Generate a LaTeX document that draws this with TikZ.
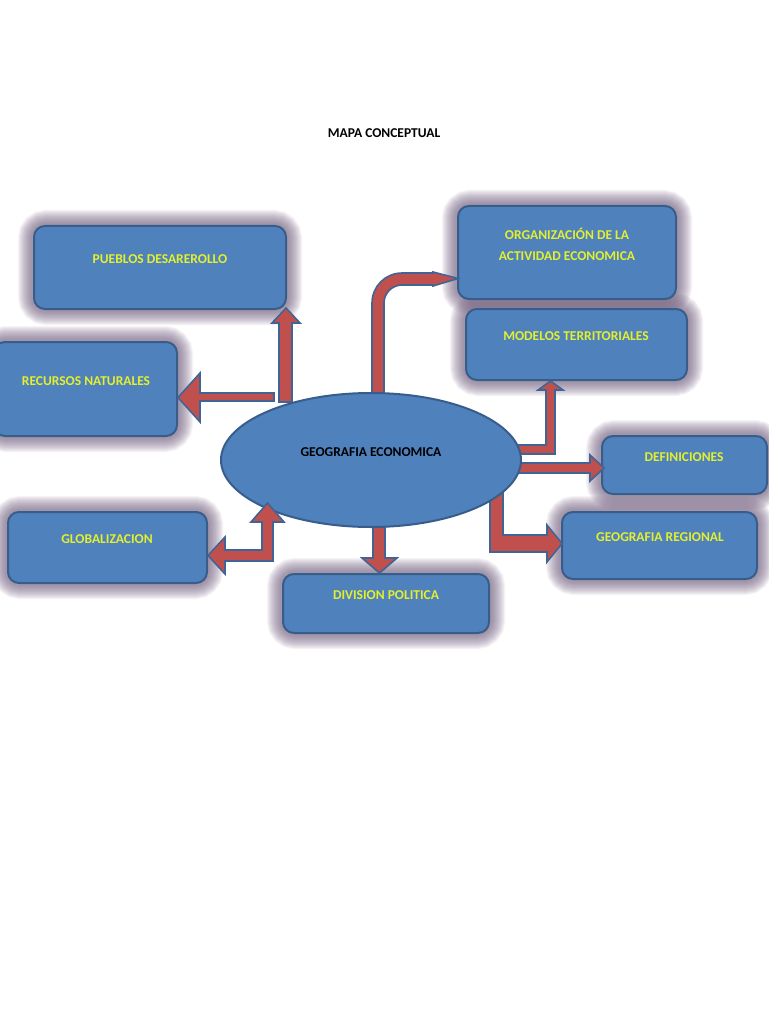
\documentclass[tikz,border=0pt]{standalone}
\usepackage{fontspec}
\setmainfont{Carlito}
\usetikzlibrary{calc,shapes.geometric}
\definecolor{boxfill}{RGB}{79,129,189}
\definecolor{boxline}{RGB}{56,93,138}
\definecolor{arrfill}{RGB}{192,80,77}
\definecolor{arrline}{RGB}{65,100,150}
\definecolor{glowc}{RGB}{118,98,130}
\definecolor{txty}{RGB}{228,240,45}
\pgfdeclarelayer{bg}
\pgfdeclarelayer{paper}
\pgfsetlayers{paper,bg,main}
\tikzset{
  box/.style={draw=boxline, fill=boxfill, line width=2pt, rounded corners=11pt, inner sep=0pt},
  lbl/.style={text=txty, font=\fontsize{13.5}{17}\selectfont\bfseries, align=center, inner sep=0pt},
  dark/.style={text=black, font=\fontsize{13.5}{17}\selectfont\bfseries, inner sep=0pt},
  blockarrow/.style={fill=arrfill, draw=arrline, line width=1.6pt, line join=miter},
  glowring/.style={draw=glowc, rounded corners=13pt},
}
\newcommand\mybox[5]{%
  \node[box, minimum width=#4pt, minimum height=#5pt] (#1) at (#2,#3) {};
  \begin{pgfonlayer}{bg}
    \foreach \w in {30,28,...,4}{
      \draw[glowring, line width=\w pt, opacity=0.07] (#1.north west) rectangle (#1.south east);
    }
  \end{pgfonlayer}%
}
\begin{document}
\begin{tikzpicture}[x=1pt,y=-1pt]
\useasboundingbox (0,0) rectangle (768,1024);
\begin{pgfonlayer}{paper}
\fill[white] (0,0) rectangle (768,1024);
\end{pgfonlayer}

% title
\node[dark] (title) at (384,133) {MAPA CONCEPTUAL};

% boxes
\mybox{pueblos}{160}{267.5}{252}{83}
\mybox{recursos}{85.5}{389}{183}{94}
\mybox{organiz}{567}{252.5}{218}{93}
\mybox{modelos}{576.5}{344.5}{221}{71}
\mybox{defin}{684.5}{465}{165}{58}
\mybox{regional}{659.5}{545.5}{195}{67}
\mybox{global}{107.5}{547.5}{199}{71}
\mybox{division}{386}{603.5}{206}{59}

\node[lbl] (pueblos-t) at (160,259) {PUEBLOS DESAREROLLO};
\node[lbl] (recursos-t) at (86,381) {RECURSOS NATURALES};
\node[lbl, font=\fontsize{13.5}{21}\selectfont\bfseries] (organiz-t) at (567,244.5) {ORGANIZACIÓN DE LA\\ACTIVIDAD ECONOMICA};
\node[lbl] (modelos-t) at (576,336) {MODELOS TERRITORIALES};
\node[lbl] (defin-t) at (684,457) {DEFINICIONES};
\node[lbl] (regional-t) at (660,537) {GEOGRAFIA REGIONAL};
\node[lbl] (global-t) at (107,539) {GLOBALIZACION};
\node[lbl] (division-t) at (386,595) {DIVISION POLITICA};

% arrows behind the ellipse
% up to pueblos
\draw[blockarrow] (279,402) -- (279,323) -- (272,323) -- (286,308) -- (300,323) -- (292,323) -- (292,402) -- cycle;
% left to recursos
\draw[blockarrow] (274,393) -- (200,393) -- (200,373) -- (178,397.5) -- (200,422) -- (200,401) -- (274,401) -- cycle;
% curved to organizacion
\draw[blockarrow] (372,400) -- (372,303) .. controls (372,286.4) and (385.4,273) .. (402,273) -- (433,273) -- (433,272) -- (458,278.5) -- (433,286) -- (433,285) -- (402,285) .. controls (392.1,285) and (384,293.1) .. (384,303) -- (384,400) -- cycle;
% bent to modelos
\draw[blockarrow] (512,445) -- (546,445) -- (546,390) -- (538,390) -- (550.5,381) -- (563,390) -- (555,390) -- (555,454) -- (512,454) -- cycle;
% to definiciones
\draw[blockarrow] (512,463) -- (590,463) -- (590,455) -- (604,468) -- (590,481) -- (590,473) -- (512,473) -- cycle;
% bent to geografia regional
\draw[blockarrow] (490,488) -- (490,552) -- (547,552) -- (547,562) -- (562,543.5) -- (547,525) -- (547,535) -- (503,535) -- (503,488) -- cycle;
% down to division
\draw[blockarrow] (373,505) -- (373,558) -- (362,558) -- (379.5,573) -- (397,558) -- (385,558) -- (385,505) -- cycle;

% central ellipse
\node[draw=boxline, fill=boxfill, line width=2pt, ellipse, minimum width=300pt, minimum height=134pt, inner sep=0pt] (geo) at (371,460) {};
\node[dark] (geo-t) at (371,452) {GEOGRAFIA ECONOMICA};

% double arrow to globalizacion
\draw[blockarrow] (208,555.5) -- (225,537) -- (225,550) -- (262,550) -- (262,522) -- (251,522) -- (267.5,503) -- (284,522) -- (273,522) -- (273,561) -- (225,561) -- (225,574) -- cycle;
\end{tikzpicture}
\end{document}
